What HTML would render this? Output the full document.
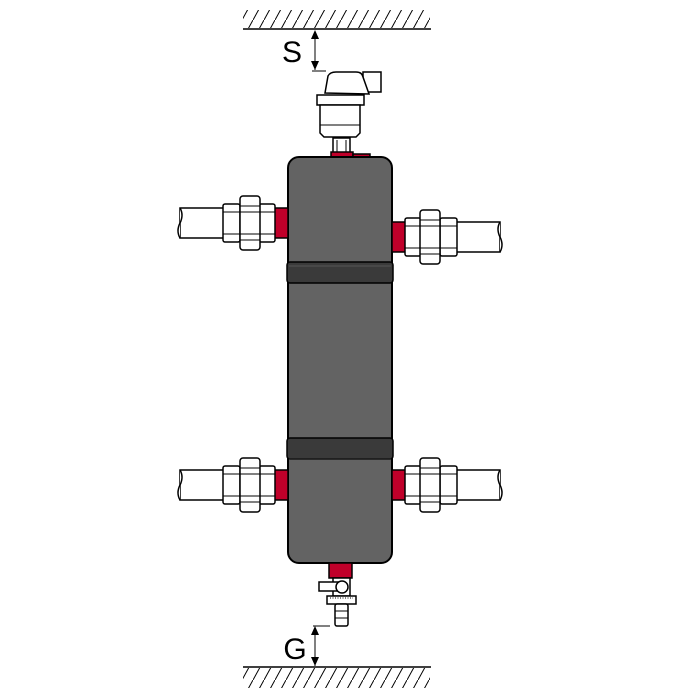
<!DOCTYPE html>
<html><head><meta charset="utf-8"><style>html,body{margin:0;padding:0;background:#fff}svg{display:block}</style></head>
<body>
<svg width="700" height="700" viewBox="0 0 700 700" xmlns="http://www.w3.org/2000/svg">
<defs>
<pattern id="h" width="11" height="20" patternUnits="userSpaceOnUse">
<line x1="0" y1="20" x2="11" y2="0" stroke="#000" stroke-width="1"/>
</pattern>
<g id="u" stroke="#000" stroke-width="1.5" fill="#fff">
<rect x="392" y="-15" width="14" height="30" fill="#c0002a"/>
<rect x="456" y="-15" width="44" height="30"/>
<path d="M500,-15 q-4,7 0,15 q4,8 0,15" fill="#fff"/>
<rect x="405" y="-19" width="16" height="38" rx="2"/>
<rect x="440" y="-19" width="17" height="38" rx="2"/>
<rect x="420" y="-27" width="20" height="54" rx="3"/>
<line x1="405" y1="-11" x2="457" y2="-11" stroke-width="1"/>
<line x1="405" y1="11" x2="457" y2="11" stroke-width="1"/>
<line x1="420" y1="-17" x2="440" y2="-17" stroke-width="1"/>
<line x1="420" y1="17" x2="440" y2="17" stroke-width="1"/>
</g>
</defs>
<rect x="243" y="10" width="187" height="18" fill="url(#h)"/>
<line x1="243" y1="29" x2="431" y2="29" stroke="#000" stroke-width="1.5"/>
<rect x="243" y="668" width="187" height="20" fill="url(#h)"/>
<line x1="243" y1="667" x2="431" y2="667" stroke="#000" stroke-width="1.5"/>
<text x="292" y="62" font-family="Liberation Sans, sans-serif" font-size="30" text-anchor="middle">S</text>
<line x1="315" y1="31" x2="315" y2="70" stroke="#000" stroke-width="1"/>
<path d="M315,30 l-4,9 h8z M315,70 l-4,-9 h8z"/>
<line x1="312" y1="71" x2="326" y2="71" stroke="#000" stroke-width="1"/>
<text x="295" y="659" font-family="Liberation Sans, sans-serif" font-size="30" text-anchor="middle">G</text>
<line x1="315" y1="627" x2="315" y2="666" stroke="#000" stroke-width="1"/>
<path d="M315,626 l-4,9 h8z M315,666 l-4,-9 h8z"/>
<line x1="313" y1="626" x2="330" y2="626" stroke="#000" stroke-width="1"/>
<g stroke="#000" stroke-width="1.5" fill="#fff">
<rect x="333" y="138" width="17" height="16"/>
<line x1="337" y1="140" x2="337" y2="152" stroke-width="1"/><line x1="346" y1="140" x2="346" y2="152" stroke-width="1"/>
<rect x="331" y="152" width="22" height="7" fill="#c0002a"/>
<rect x="353" y="154" width="17" height="4" fill="#c0002a"/>
<rect x="363" y="72" width="18" height="20"/>
<path d="M325,93 l3,-17 q2,-4 8,-4 h20 q6,0 7,5 l6,17 z"/>
<rect x="317" y="95" width="47" height="10"/>
<path d="M320,105 h40 v28 l-4,4 h-32 l-4,-4 z"/>
<line x1="320" y1="125" x2="360" y2="125" stroke-width="1"/>
</g>
<rect x="288" y="157" width="104" height="406" rx="11" fill="#636363" stroke="#000" stroke-width="2"/>
<rect x="287" y="262" width="106" height="21" rx="3" fill="#3a3a3a" stroke="#000" stroke-width="1.5"/>
<line x1="289" y1="266" x2="391" y2="266" stroke="#555" stroke-width="1"/>
<rect x="287" y="438" width="106" height="21" rx="3" fill="#3a3a3a" stroke="#000" stroke-width="1.5"/>
<line x1="289" y1="459" x2="391" y2="459" stroke="#222" stroke-width="1"/>
<use href="#u" transform="translate(0,237)"/>
<use href="#u" transform="translate(0,485)"/>
<use href="#u" transform="translate(680,223) scale(-1,1)"/>
<use href="#u" transform="translate(680,485) scale(-1,1)"/>
<g stroke="#000" stroke-width="1.5" fill="#fff">
<rect x="329" y="563" width="23" height="15" fill="#c0002a"/>
<rect x="333" y="578" width="17" height="18"/>
<rect x="319" y="582" width="22" height="9"/>
<circle cx="342" cy="587" r="6"/>
<rect x="327" y="596" width="29" height="8"/>
<line x1="330" y1="598" x2="353" y2="598" stroke-width="1" stroke-dasharray="1,1.5"/>
<rect x="335" y="604" width="13" height="22" rx="2"/>
<line x1="335" y1="611" x2="348" y2="611" stroke-width="1"/>
<line x1="335" y1="618" x2="348" y2="618" stroke-width="1"/>
</g>
</svg>
</body></html>
